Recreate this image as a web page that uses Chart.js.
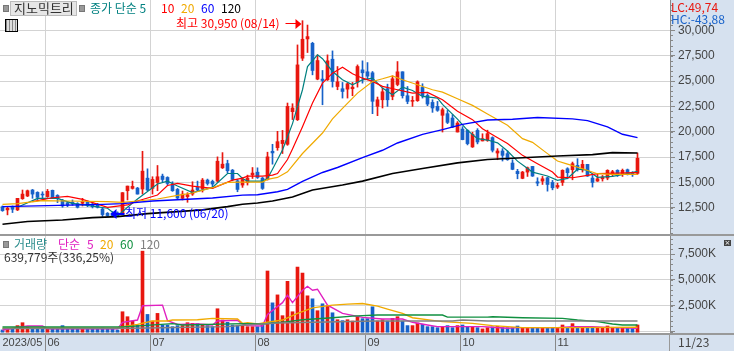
<!DOCTYPE html>
<html>
<head>
<meta charset="utf-8">
<script src="https://cdn.jsdelivr.net/npm/chart.js@4"></script>
<style>
    html, body { margin: 0; padding: 0; background: #fff; }
    #wrap { position: relative; width: 734px; height: 351px; overflow: hidden; font: 12px "Noto Sans CJK KR", sans-serif; }
    canvas { position: absolute; left: 0; top: 0; }
    .t { position: absolute; line-height: 14px; white-space: nowrap; }
    .sq { position: absolute; width: 4px; height: 5px; background: #999; border: 1px solid #777; }
    #btn { position: absolute; left: 10px; top: 1px; width: 65px; height: 13px; background: #e6e6e6; border: 1px solid #bbb; }
    #gridIcon { position: absolute; left: 5px; top: 19px; width: 11px; height: 11px; border: 1px solid #000; background: repeating-linear-gradient(90deg, #888 0 1px, #ddd 1px 3px); }
    #closeIcon { position: absolute; left: 724px; top: 240px; width: 7px; height: 6px; background: #444; color: #fff; font: 7px/6px "DejaVu Sans"; text-align: center; }
</style>
</head>
<body>
<div id="wrap">
    <canvas id="chart" width="734" height="351"></canvas>
    <div id="btn"></div>
    <div class="sq" style="left:3px;top:5px"></div>
    <div class="sq" style="left:79px;top:5px"></div>
    <div class="sq" style="left:3px;top:241px"></div>
    <div id="gridIcon"></div>
    <div id="closeIcon">×</div>
</div>
<script>
// 캔들 값
const opens = [12610, 12290, 12550, 12290, 13400, 13660, 14250, 14020, 13850, 13600,
    14220, 13720, 13230, 13000, 13040, 12910, 12940, 13040, 12870, 12810,
    12380, 11960, 11960, 12000, 11890, 14180, 14410, 14440, 14350, 15420,
    14410, 15000, 15620, 15490, 14710, 14310, 13430, 13600, 13850, 14510,
    14350, 15230, 15100, 15130, 16440, 16860, 16210, 15160, 14740, 14970,
    15750, 16010, 15430, 15290, 18070, 18430, 18830, 18760, 21980, 21190,
    27250, 29150, 28720, 25190, 25190, 25120, 27150, 24460, 24240, 24200,
    24240, 24890, 26100, 25910, 25810, 22500, 23150, 24240, 23480, 24660,
    25910, 23550, 23000, 23060, 24370, 23580, 22890, 22500, 21620, 21780,
    21350, 19970, 20260, 20130, 18500, 20130, 19090, 19150, 19420, 17900,
    18100, 17840, 16910, 16090, 15400, 16020, 16580, 15060, 15130, 15460,
    15000, 14540, 15000, 16350, 16250, 16680, 16250, 16780, 15430, 15130,
    15360, 15430, 15800, 16190, 15790, 16250, 15960, 15890];
const highs = [12680, 12550, 12680, 13430, 14250, 14250, 14310, 14080, 14080, 14310,
    14250, 13790, 13330, 13100, 13270, 13000, 13430, 13170, 13000, 12940,
    12480, 12030, 12120, 12100, 14000, 14640, 15130, 14510, 18070, 16340,
    15560, 16670, 15820, 15560, 15070, 14410, 14150, 13990, 15070, 15130,
    15390, 15330, 15230, 17520, 17940, 17190, 16280, 15290, 15490, 15720,
    16470, 16440, 15490, 17980, 18760, 20040, 20130, 22830, 22760, 28560,
    30950, 30520, 28820, 27580, 26040, 27580, 27970, 26430, 24860, 24790,
    24860, 26590, 26990, 26820, 25940, 23420, 24300, 24690, 25510, 26920,
    25910, 24460, 23480, 25020, 24730, 23740, 23150, 22990, 22340, 22100,
    21680, 21000, 20500, 20200, 19950, 20300, 19800, 20150, 19500, 18330,
    18330, 18100, 17240, 16290, 16090, 16520, 16580, 15460, 15590, 15530,
    15200, 14930, 16250, 16450, 17010, 17340, 17180, 16780, 15690, 15860,
    15690, 16250, 16190, 16250, 16320, 16320, 16060, 17900];
const lows = [12150, 11800, 12030, 12220, 13330, 13600, 13430, 13270, 13330, 13530,
    13430, 13010, 12550, 12610, 12740, 12480, 12680, 12610, 12480, 12480,
    11630, 11650, 11600, 11650, 11830, 13270, 14340, 13850, 13850, 14180,
    13850, 14180, 15070, 14740, 14120, 13330, 13270, 13040, 13720, 14120,
    14050, 14740, 14410, 15030, 16370, 15950, 15160, 14080, 14510, 14740,
    15390, 15390, 14310, 15230, 16800, 18170, 17850, 18660, 21200, 21100,
    27020, 27810, 25610, 25120, 22660, 25050, 24400, 24140, 23320, 23320,
    23550, 24400, 24790, 25120, 21780, 21580, 22340, 22500, 23150, 24530,
    23320, 22760, 22500, 22990, 23320, 22570, 21910, 22010, 19970, 20800,
    20400, 19970, 19200, 18700, 18450, 18800, 19090, 19050, 18000, 17240,
    17110, 17180, 16250, 15360, 15360, 15590, 15590, 14670, 14800, 14140,
    14270, 14400, 14700, 15360, 15260, 16120, 16020, 15590, 14540, 15100,
    15130, 15260, 15590, 15590, 15590, 15730, 15590, 15790];
const closes = [12220, 12450, 12350, 13430, 13850, 14180, 13850, 13530, 13760, 14120,
    13460, 13400, 12680, 12780, 12870, 12550, 13100, 12810, 12610, 12550,
    11830, 11730, 11650, 11700, 13990, 14640, 14610, 13850, 16110, 14250,
    15290, 15560, 15290, 14900, 14180, 13460, 13850, 13790, 14250, 14250,
    15230, 14900, 14840, 17090, 16800, 16150, 15290, 14310, 15290, 15430,
    15920, 15490, 14410, 17520, 17910, 19020, 19150, 22500, 22340, 26590,
    29120, 29380, 26040, 27020, 25050, 26990, 24960, 24920, 23970, 24730,
    24400, 26430, 25810, 25480, 23000, 23150, 23940, 23150, 25220, 25910,
    23550, 22990, 23090, 24920, 23550, 22730, 22340, 22110, 22170, 20920,
    20460, 20850, 19220, 18830, 19740, 18990, 19320, 19810, 18170, 18100,
    17670, 17240, 16290, 15860, 16020, 16450, 15630, 14930, 15360, 14800,
    14470, 14700, 16190, 15960, 16850, 16250, 16780, 15630, 15000, 15360,
    15530, 16190, 16060, 15730, 16190, 15860, 15760, 17380];
const volumes = [160, 260, 260, 580, 860, 420, 260, 260, 260, 260,
    260, 320, 580, 320, 260, 320, 320, 260, 260, 320,
    380, 320, 260, 160, 1920, 1440, 1020, 640, 7780, 1660,
    1020, 1760, 640, 640, 480, 580, 580, 860, 800, 770,
    700, 580, 480, 2210, 1120, 900, 640, 580, 580, 480,
    480, 480, 640, 5860, 2780, 3550, 1540, 4860, 1920, 6240,
    5660, 3460, 3170, 2020, 2690, 2500, 1820, 1150, 1060, 1150,
    1020, 1440, 1250, 1250, 2400, 1020, 1150, 1020, 1280, 1440,
    1020, 580, 580, 830, 700, 480, 480, 380, 450, 580,
    380, 580, 640, 510, 420, 380, 260, 380, 450, 510,
    380, 380, 380, 540, 320, 320, 320, 320, 320, 320,
    320, 320, 640, 320, 770, 420, 380, 380, 380, 420,
    380, 540, 420, 320, 320, 350, 290, 640];

// 이동평균선 [봉 번호, 값]
const ma5 = [[3, 12550], [7, 13430], [11, 13430], [14, 12940], [21, 12450], [23, 11700], [25, 12550], [27, 13365], [31, 14840], [33, 15130], [35, 14640], [38, 13990], [42, 14510], [45, 15880], [47, 15880], [48, 15390], [49, 15130], [52, 15130], [53, 15390], [54, 16300], [56, 18200], [58, 20800], [60, 24140], [61, 26430], [63, 27580], [64, 27200], [66, 25940], [68, 25120], [70, 24630], [72, 25120], [74, 25280], [76, 24300], [78, 23650], [80, 24400], [82, 24070], [84, 23480], [87, 23320], [88, 22700], [91, 21250], [93, 20130], [95, 19320], [97, 19180], [99, 18900], [101, 18100], [103, 17100], [106, 16020], [109, 15630], [111, 15200], [113, 15400], [115, 16300], [117, 16200], [119, 15500], [122, 15590], [125, 15860], [127, 16090]];
const ma10 = [[6, 13100], [10, 13490], [13, 13620], [16, 13330], [21, 12550], [25, 12780], [27, 13170], [31, 13760], [33, 14700], [35, 14900], [38, 14640], [42, 14410], [46, 15230], [48, 15430], [49, 15620], [52, 15620], [54, 15720], [55, 15880], [57, 17260], [58, 18300], [60, 20500], [62, 22830], [64, 24790], [66, 25780], [68, 26365], [70, 25710], [72, 25280], [74, 24960], [76, 24470], [79, 24140], [82, 23810], [85, 23880], [88, 23155], [91, 22010], [94, 21190], [96, 20300], [98, 19700], [101, 18830], [104, 17670], [107, 16850], [110, 16020], [111, 15530], [114, 15460], [117, 15690], [119, 15860], [123, 15920], [127, 15960]];
const ma20 = [[0, 12840], [3, 12910], [5, 13040], [8, 13200], [13, 13170], [21, 13100], [24, 13040], [27, 13170], [31, 13365], [35, 13725], [38, 13955], [42, 14480], [45, 15000], [48, 15030], [52, 15030], [53, 15295], [55, 15490], [57, 16050], [60, 17850], [64, 19870], [66, 21260], [68, 22300], [71, 23810], [74, 24960], [76, 25220], [78, 25510], [80, 25120], [83, 24630], [86, 24140], [88, 23900], [91, 23250], [94, 22600], [97, 21750], [101, 20640], [104, 19320], [106, 18950], [109, 17840], [111, 17110], [113, 16800], [116, 16350], [119, 15860], [122, 15790], [127, 15790]];
const ma60 = [[0, 12610], [9, 12710], [20, 12840], [24, 12910], [30, 13170], [34, 13270], [42, 13460], [48, 13750], [51, 13790], [55, 14080], [57, 14310], [60, 15100], [64, 15980], [67, 16470], [72, 17450], [76, 18170], [79, 18890], [84, 19740], [88, 20200], [92, 20720], [97, 21150], [102, 21230], [107, 21400], [114, 21270], [117, 21100], [121, 20480], [124, 19750], [127, 19420]];
const ma120 = [[0, 10880], [5, 11140], [12, 11300], [18, 11530], [23, 11630], [29, 11920], [35, 12120], [40, 12290], [45, 12610], [48, 12840], [51, 12970], [54, 13170], [58, 13560], [62, 14250], [68, 14740], [72, 15130], [78, 15880], [84, 16370], [91, 16930], [97, 17260], [104, 17440], [111, 17600], [118, 17740], [122, 17940], [127, 17900]];
const volMa5 = [[0, 160], [5, 540], [8, 540], [9, 260], [23, 260], [24, 900], [27, 1120], [28, 2500], [32, 2560], [33, 1060], [35, 700], [39, 740], [42, 640], [43, 1020], [47, 1090], [48, 740], [49, 580], [52, 540], [53, 1660], [56, 2800], [57, 3520], [58, 2800], [60, 4000], [61, 4380], [62, 4000], [63, 4100], [65, 2560], [68, 1760], [72, 1380], [76, 1220], [80, 1220], [82, 900], [85, 640], [87, 480], [90, 480], [96, 480], [98, 420], [101, 320], [103, 380], [111, 380], [114, 480], [118, 480], [122, 380], [127, 320]];
const volMa20 = [[0, 320], [23, 380], [27, 700], [30, 1020], [33, 1020], [34, 1120], [39, 1150], [42, 1280], [47, 1220], [48, 800], [49, 860], [51, 740], [53, 900], [56, 1120], [59, 1760], [62, 2300], [66, 2560], [69, 2660], [72, 2720], [75, 2460], [77, 2180], [80, 1760], [82, 1340], [86, 1090], [88, 960], [94, 800], [98, 580], [104, 380], [114, 380], [127, 420]];
const volMa60 = [[0, 450], [24, 450], [28, 580], [34, 770], [36, 640], [48, 770], [52, 730], [57, 960], [60, 1150], [66, 1340], [70, 1500], [75, 1600], [88, 1600], [89, 1400], [97, 1400], [98, 1440], [104, 1340], [112, 1280], [115, 1120], [119, 960], [122, 740], [124, 640], [127, 640]];
const volMa120 = [[0, 288], [26, 320], [45, 480], [48, 610], [55, 830], [62, 900], [75, 1020], [90, 1020], [92, 1120], [97, 1020], [127, 1020]];

// 축 눈금
const labels = Array.from({ length: 134 }, (_, i) => String(i));
const monthStarts = [0, 9, 30, 51, 73, 92, 111];
const monthLabels = ['2023/05', '06', '07', '08', '09', '10', '11'];
const priceTicks = [12500, 15000, 17500, 20000, 22500, 25000, 27500, 30000];
const volumeTicks = [0, 2500, 5000, 7500];

const RED = '#e8170f';
const BLUE = '#1761c9';
const BAND = '#d6e1ef';
const LINE = '#999999';

const texts = [
    ['지노믹트리', 14, 1, '#333', 13],
    ['종가 단순 5', 90, 1, '#008080'],
    ['10', 161, 1, '#ff0000'],
    ['20', 181, 1, '#f0aa00'],
    ['60', 201, 1, '#0000ff'],
    ['120', 221, 1, '#000'],
    ['최고 30,950 (08/14)', 176, 16, '#ff0000'],
    ['최저 11,600 (06/20)', 125, 206, '#0000ff'],
    ['LC:49,74', 671, 0, '#e8170f'],
    ['HC:-43,88', 671, 12, '#1761c9'],
    ['거래량', 14, 237, '#2a8c8c'],
    ['단순', 58, 237, '#e020c0'],
    ['5', 87, 237, '#e020c0'],
    ['20', 100, 237, '#f0aa00'],
    ['60', 120, 237, '#109040'],
    ['120', 140, 237, '#808080'],
    ['639,779주(336,25%)', 4, 250, '#333'],
    ['11/23', 678, 335, '#444']
];
const wrap = document.getElementById('wrap');
texts.forEach(([text, x, y, color, size]) => {
    const el = document.createElement('div');
    el.className = 't';
    el.textContent = text;
    el.style.left = x + 'px';
    el.style.top = y + 'px';
    el.style.color = color;
    if (size) el.style.fontSize = size + 'px';
    wrap.appendChild(el);
});

const pts = a => a.map(([i, v]) => ({ x: labels[i], y: v }));
const updown = opens.map((o, i) => closes[i] >= o ? RED : BLUE);

const maLine = (data, color, yAxisID, width) => ({
    type: 'line', data: pts(data), borderColor: color, borderWidth: width, yAxisID,
    pointRadius: 0, tension: 0, order: 1
});

// 눈금 글자 때문에 생기는 여백 제거
const noPadding = axis => {
    axis.paddingTop = 0;
    axis.paddingBottom = 0;
    axis.paddingLeft = 0;
    axis.paddingRight = 0;
};

// 배경, 구분선, 월 세로선, 잔눈금, 최고/최저 화살표
const paneLines = {
    id: 'paneLines',
    beforeDraw(chart) {
        const { ctx, scales, width, height, chartArea } = chart;
        ctx.save();
        ctx.fillStyle = BAND;
        ctx.fillRect(chartArea.right, 0, width - chartArea.right, height);
        ctx.fillRect(0, chartArea.bottom, width, height - chartArea.bottom);
        monthStarts.slice(1).forEach(i => {
            const x = Math.round(scales.x.getPixelForValue(i) - 2.5);
            ctx.fillStyle = '#d3d3d3';
            ctx.fillRect(x, 0, 1, chartArea.bottom);
            ctx.fillStyle = '#888';
            ctx.fillRect(x, chartArea.bottom, 1, height - chartArea.bottom);
        });
        ctx.restore();
    },
    afterDraw(chart) {
        const { ctx, scales, width, chartArea } = chart;
        ctx.save();
        ctx.fillStyle = LINE;
        ctx.fillRect(0, 234, width, 2);
        ctx.fillRect(0, chartArea.bottom - 1, width, 2);
        ctx.fillRect(chartArea.right - 1, chartArea.bottom, 1, 351 - chartArea.bottom);
        ctx.fillStyle = '#888';
        for (let v = 10000; v <= 32500; v += 500) {
            ctx.fillRect(chartArea.right, Math.round(scales.y.getPixelForValue(v)), 3, 1);
        }
        for (let v = 0; v <= 9000; v += 500) {
            ctx.fillRect(chartArea.right, Math.round(scales.yVol.getPixelForValue(v)), 3, 1);
        }
        // 최고
        const hx = scales.x.getPixelForValue(60);
        const hy = Math.round(scales.y.getPixelForValue(30950)) + 3;
        ctx.fillStyle = '#ff0000';
        ctx.fillRect(hx - 17, hy - 1, 12, 1);
        ctx.beginPath();
        ctx.moveTo(hx - 1, hy);
        ctx.lineTo(hx - 7, hy - 5);
        ctx.lineTo(hx - 7, hy + 5);
        ctx.fill();
        // 최저
        const lx = scales.x.getPixelForValue(22);
        const ly = Math.round(scales.y.getPixelForValue(11600)) - 3;
        ctx.fillStyle = '#0000ff';
        ctx.fillRect(lx, ly - 1, 12, 2);
        ctx.beginPath();
        ctx.moveTo(lx - 2, ly);
        ctx.lineTo(lx + 4, ly - 5);
        ctx.lineTo(lx + 4, ly + 5);
        ctx.fill();
        ctx.restore();
    }
};

const axisText = { color: '#444', font: { family: 'Liberation Sans', size: 12 }, padding: 3, autoSkip: false };

new Chart(document.getElementById('chart'), {
    data: {
        labels: labels,
        datasets: [
            { type: 'bar', data: lows.map((l, i) => [l, highs[i]]), backgroundColor: updown, barThickness: 1, yAxisID: 'y', order: 6 },
            { type: 'bar', data: opens.map((o, i) => [o, closes[i]]), backgroundColor: updown, barThickness: 3, yAxisID: 'y', order: 5 },
            maLine(ma120, '#000000', 'y', 1.6),
            maLine(ma60, '#0000ff', 'y', 1.4),
            maLine(ma20, '#f0aa00', 'y', 1.2),
            maLine(ma10, '#ff0000', 'y', 1.2),
            maLine(ma5, '#008080', 'y', 1.2),
            { type: 'bar', data: volumes, base: -60, backgroundColor: updown, barThickness: 3, yAxisID: 'yVol', order: 5 },
            maLine(volMa120, '#808080', 'yVol', 1.4),
            maLine(volMa60, '#109040', 'yVol', 1.4),
            maLine(volMa20, '#f0aa00', 'yVol', 1.4),
            maLine(volMa5, '#e020c0', 'yVol', 1.4)
        ]
    },
    options: {
        responsive: false,
        animation: false,
        layout: { padding: 0, autoPadding: false },
        datasets: { bar: { grouped: false } },
        plugins: { legend: { display: false }, tooltip: { enabled: false } },
        scales: {
            x: {
                type: 'category',
                offset: true,
                grid: { display: false, drawTicks: false, tickLength: 0 },
                border: { display: false },
                afterBuildTicks: axis => { axis.ticks = monthStarts.map(v => ({ value: v })); },
                afterFit: axis => { axis.height = 17; noPadding(axis); },
                ticks: {
                    autoSkip: false, maxRotation: 0, align: 'start', padding: 2,
                    color: '#444', font: { family: 'Liberation Sans', size: 11 },
                    callback: (v, i) => monthLabels[i]
                }
            },
            y: {
                position: 'right', stack: 'panes', stackWeight: 235,
                min: 9815, max: 32990,
                grid: { color: '#d3d3d3', tickColor: '#888', tickLength: 5 },
                border: { color: '#888' },
                afterBuildTicks: axis => { axis.ticks = priceTicks.map(v => ({ value: v })); },
                afterFit: axis => { axis.width = 64; noPadding(axis); },
                ticks: { ...axisText, callback: v => v.toLocaleString('en-US') }
            },
            yVol: {
                position: 'right', stack: 'panes', stackWeight: 99,
                min: -232, max: 9341,
                grid: { color: '#d3d3d3', tickColor: '#888', tickLength: 5 },
                border: { color: '#888' },
                afterBuildTicks: axis => { axis.ticks = volumeTicks.map(v => ({ value: v })); },
                afterFit: axis => { axis.width = 64; noPadding(axis); },
                ticks: { ...axisText, callback: v => v === 0 ? '' : v.toLocaleString('en-US') + 'K' }
            }
        }
    },
    plugins: [paneLines]
});
</script>
</body>
</html>
